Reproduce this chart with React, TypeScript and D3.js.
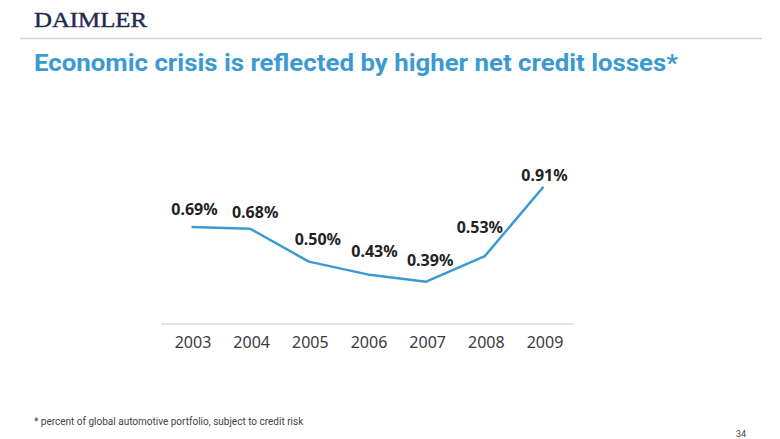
import React from "react";
import * as d3 from "d3";

const years = ["2003", "2004", "2005", "2006", "2007", "2008", "2009"];
const lossRates = [0.69, 0.68, 0.5, 0.43, 0.39, 0.53, 0.91];
const valueLabels = ["0.69%", "0.68%", "0.50%", "0.43%", "0.39%", "0.53%", "0.91%"];

// label layout nudges (dx, dy from point)
const labelDx = [3, 5, 9, 7, 4, -5, 1];
const labelDy = [-17, -16, -22, -23, -21, -29, -11];

const W = 780;
const H = 439;

export default function App() {
  const x = d3.scalePoint<string>().domain(years).range([161, 574]).padding(0.52);
  const y = d3.scaleLinear().domain([0.39, 0.91]).range([281.7, 186.7]);
  const line = d3
    .line<number>()
    .x((_, i) => x(years[i]) as number)
    .y((d) => y(d));

  return (
    <svg
      width={W}
      height={H}
      style={{ position: "absolute", left: 0, top: 0, background: "#fff" }}
    >
      <text
        x={34}
        y={27}
        fontFamily="'Liberation Serif', 'DejaVu Serif', serif"
        fontSize={20}
        fill="#1d2b4f"
        stroke="#1d2b4f"
        strokeWidth={0.4}
        textLength={113}
        lengthAdjust="spacingAndGlyphs"
      >
        DAIMLER
      </text>
      <line x1={20} x2={762} y1={38.5} y2={38.5} stroke="#d4d4d4" strokeWidth={1.5} />
      <text
        x={34}
        y={71}
        fontFamily="Roboto, 'Noto Sans', sans-serif"
        fontWeight={700}
        fontSize={23}
        fill="#3c9ad2"
        textLength={644}
        lengthAdjust="spacingAndGlyphs"
      >
        Economic crisis is reflected by higher net credit losses*
      </text>

      <line x1={161} x2={574} y1={324} y2={324} stroke="#c8c8c8" strokeWidth={1} />
      {years.map((yr) => (
        <text
          key={yr}
          x={(x(yr) as number) + 1.5}
          y={348}
          textAnchor="middle"
          fontFamily="'Noto Sans', 'Open Sans', sans-serif"
          fontSize={16}
          fill="#3a3a3a"
        >
          {yr}
        </text>
      ))}

      <path d={line(lossRates) || ""} fill="none" stroke="#3c9ad2" strokeWidth={2.5} strokeLinejoin="round" />

      {lossRates.map((v, i) => (
        <text
          key={i}
          x={(x(years[i]) as number) + labelDx[i]}
          y={y(v) + labelDy[i]}
          dy="0.35em"
          textAnchor="middle"
          fontFamily="'Noto Sans', 'Open Sans', sans-serif"
          fontWeight={700}
          fontSize={16}
          fill="#222"
        >
          {valueLabels[i]}
        </text>
      ))}

      <text
        x={34}
        y={425}
        fontFamily="'Liberation Sans Narrow', 'Roboto', sans-serif"
        fontSize={10}
        fill="#444"
      >
        * percent of global automotive portfolio, subject to credit risk
      </text>
      <text x={746} y={437} textAnchor="end" fontFamily="'Liberation Sans Narrow', Roboto, sans-serif" fontSize={9} fill="#444">
        34
      </text>
    </svg>
  );
}
